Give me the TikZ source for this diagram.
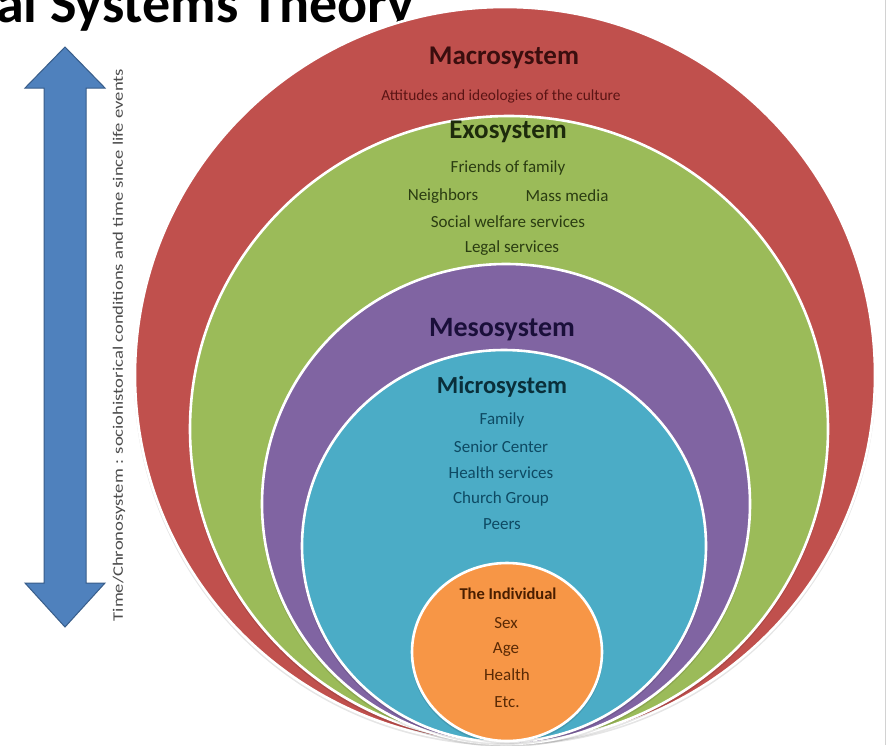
\documentclass[tikz,border=0pt]{standalone}
\usepackage{fontspec}
\setmainfont{Carlito}
\usepackage{graphicx}
\definecolor{macroC}{HTML}{C0504D}
\definecolor{exoC}{HTML}{9BBB59}
\definecolor{mesoC}{HTML}{8064A2}
\definecolor{microC}{HTML}{4BACC6}
\definecolor{indC}{HTML}{F79646}
\definecolor{arrowC}{HTML}{4F81BD}
\definecolor{arrowD}{HTML}{385D8A}
\definecolor{macroT}{HTML}{3A0E0E}
\definecolor{macroS}{HTML}{5B1414}
\definecolor{exoT}{HTML}{1E2B0C}
\definecolor{exoS}{HTML}{2B3D12}
\definecolor{mesoT}{HTML}{1A0F3A}
\definecolor{microT}{HTML}{0A2F3A}
\definecolor{microS}{HTML}{0E4A63}
\definecolor{indT}{HTML}{4A1E00}
\definecolor{indS}{HTML}{5A2A05}
\tikzset{
  ring/.style={draw=white, line width=2.6pt},
  shade/.style={fill=black, opacity=0.10},
  lbl/.style={inner sep=0pt, anchor=center},
  head/.style={lbl, font=\fontsize{27}{30}\selectfont\bfseries},
  item/.style={lbl, font=\fontsize{17}{20}\selectfont},
}
\begin{document}
\begin{tikzpicture}[x=1pt,y=-1pt]
\useasboundingbox (0,0) rectangle (891,745);
\fill[white] (0,0) rectangle (891,745);
% faint slide border
\draw[gray!35, line width=0.8pt] (885,0) -- (885,745);
% title
\node[inner sep=0pt, anchor=base west, font=\fontsize{56}{60}\selectfont\bfseries] (title) at (-4,22) {al Systems Theory};
% time arrow
\filldraw[fill=arrowC, draw=arrowD, line width=1pt]
  (65,47) -- (105,88) -- (86,88) -- (86,583) -- (105,583) -- (65,627)
  -- (25,583) -- (44,583) -- (44,88) -- (25,88) -- cycle;
\node[lbl, rotate=90, text=black!70] (chrono) at (119,345)
  {\scalebox{1}[0.78]{\fontsize{18.6}{20}\selectfont Time/Chronosystem : sociohistorical conditions and time since life events}};
% circles
\fill[shade] (505,378) ellipse [x radius=371pt, y radius=368pt];
\filldraw[fill=macroC, ring] (505,375) ellipse [x radius=370pt, y radius=368pt];
\fill[shade] (509,432) ellipse [x radius=320pt, y radius=313pt];
\filldraw[fill=exoC, ring] (509,429) ellipse [x radius=319pt, y radius=313pt];
\fill[shade] (506,507) ellipse [x radius=245pt, y radius=240pt];
\filldraw[fill=mesoC, ring] (506,504) ellipse [x radius=244pt, y radius=240pt];
\fill[shade] (504,549) ellipse [x radius=203pt, y radius=196pt];
\filldraw[fill=microC, ring] (504,546) ellipse [x radius=202pt, y radius=196pt];
\fill[shade] (507,655) ellipse [x radius=96pt, y radius=89pt];
\filldraw[fill=indC, ring] (507,652) ellipse [x radius=95pt, y radius=89pt];
% macro
\node[head, text=macroT] (macro) at (504,58) {Macrosystem};
\node[lbl, text=macroS, font=\fontsize{15.4}{18}\selectfont] (macroa) at (501,96) {Attitudes and ideologies of the culture};
% exo
\node[head, text=exoT] (exo) at (508,132) {Exosystem};
\node[item, text=exoS] (exo1) at (508,168) {Friends of family};
\node[item, text=exoS] (exo2) at (443,196) {Neighbors};
\node[item, text=exoS] (exo3) at (567,196) {Mass media};
\node[item, text=exoS] (exo4) at (508,222) {Social welfare services};
\node[item, text=exoS] (exo5) at (512,248) {Legal services};
% meso
\node[head, font=\fontsize{28}{30}\selectfont\bfseries, text=mesoT] (meso) at (502,330) {Mesosystem};
% micro
\node[head, font=\fontsize{24.5}{28}\selectfont\bfseries, text=microT] (micro) at (502,387) {Microsystem};
\node[item, text=microS] (mic1) at (502,420) {Family};
\node[item, text=microS] (mic2) at (501,447) {Senior Center};
\node[item, text=microS] (mic3) at (501,473) {Health services};
\node[item, text=microS] (mic4) at (501,499) {Church Group};
\node[item, text=microS] (mic5) at (502,524) {Peers};
% individual
\node[lbl, text=indT, font=\fontsize{16.5}{20}\selectfont\bfseries] (ind) at (508,594) {The Individual};
\node[item, text=indS] (ind1) at (506,623) {Sex};
\node[item, text=indS] (ind2) at (506,649) {Age};
\node[item, text=indS] (ind3) at (507,675) {Health};
\node[item, text=indS] (ind4) at (507,702) {Etc.};
\end{tikzpicture}
\end{document}
